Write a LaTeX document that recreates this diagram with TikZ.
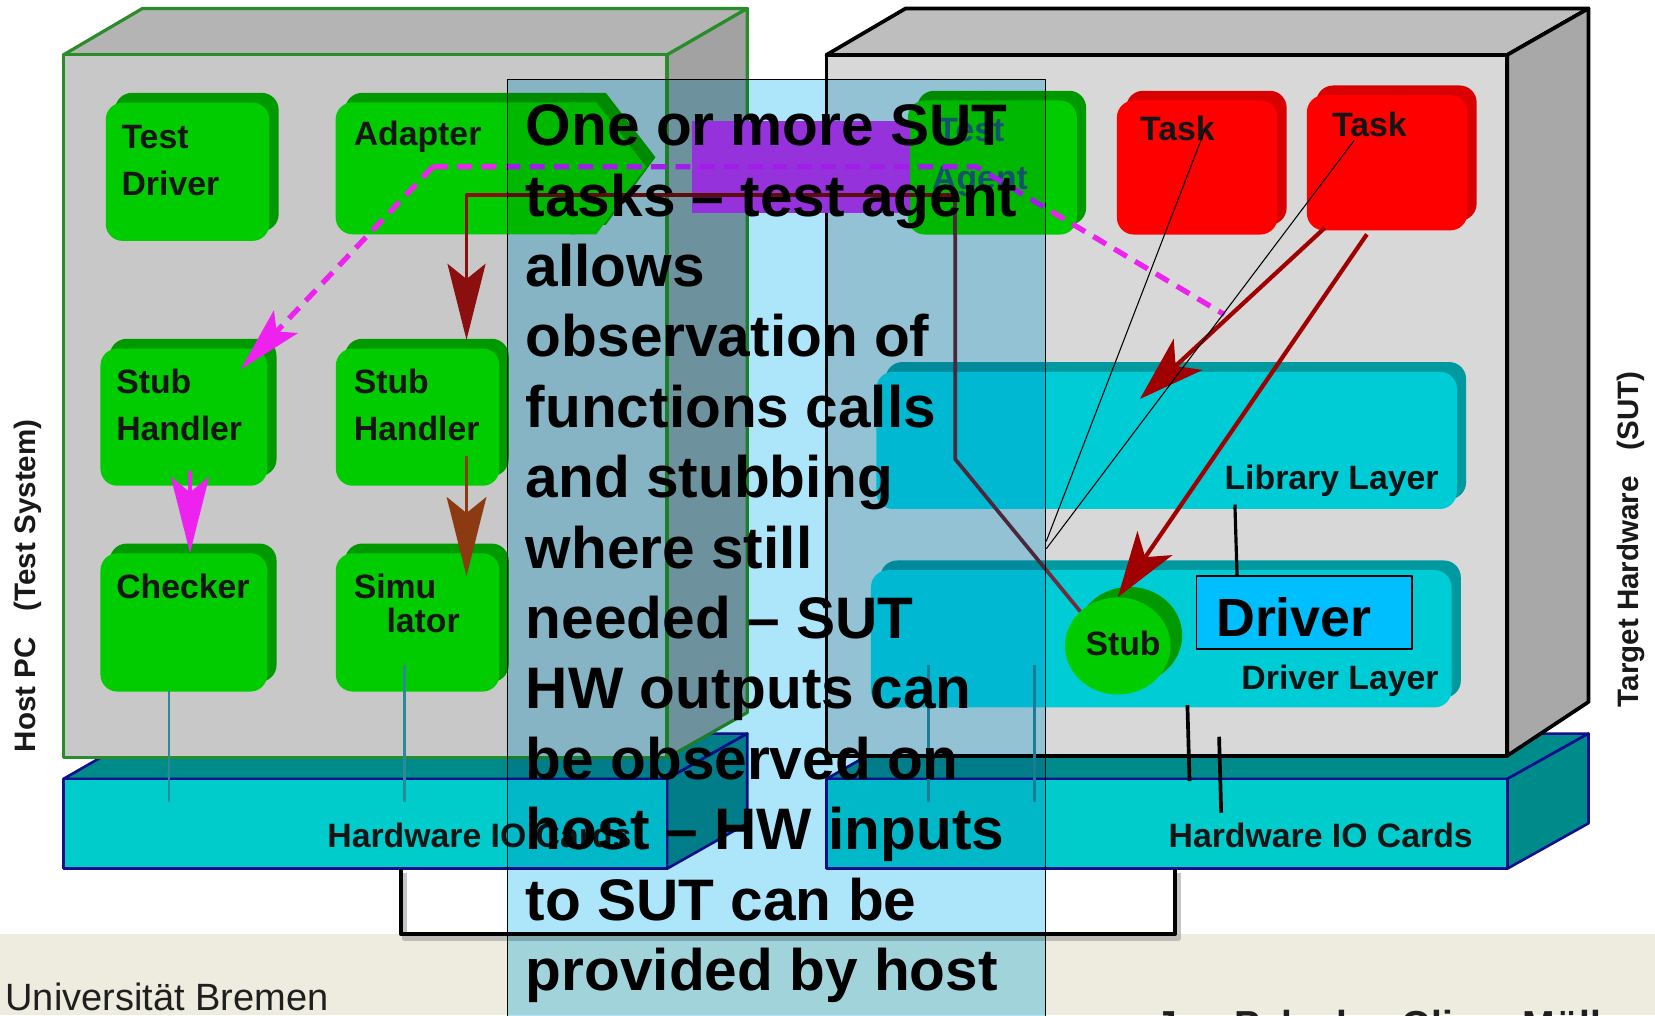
\documentclass[tikz,border=0pt]{standalone}
\usepackage{fontspec}
\setmainfont{Liberation Sans}
\usetikzlibrary{arrows.meta,calc,shapes.geometric}

\definecolor{boxgreen}{HTML}{00CC00}
\definecolor{boxgreenside}{HTML}{009A00}
\definecolor{taskred}{HTML}{FF0000}
\definecolor{taskredside}{HTML}{D80000}
\definecolor{layercyan}{HTML}{00CCD6}
\definecolor{layerside}{HTML}{00999F}
\definecolor{slabfront}{HTML}{00CCCC}
\definecolor{slabtop}{HTML}{008B8B}
\definecolor{slabedge}{HTML}{10108C}
\definecolor{hostedge}{HTML}{2A8C2A}
\definecolor{hostfront}{HTML}{C8C8C8}
\definecolor{hosttop}{HTML}{B4B4B4}
\definecolor{hostside}{HTML}{A2A2A2}
\definecolor{sutfront}{HTML}{D8D8D8}
\definecolor{suttop}{HTML}{BEBEBE}
\definecolor{sutside}{HTML}{A8A8A8}
\definecolor{notefill}{HTML}{ADE6FA}
\definecolor{footer}{HTML}{EEEBDF}
\definecolor{callmag}{HTML}{EE22EE}
\definecolor{chanmag}{HTML}{DD38E0}
\definecolor{ctrlred}{HTML}{8B0F0F}
\definecolor{simbrown}{HTML}{8B3A12}
\definecolor{taskarrow}{HTML}{A00000}
\definecolor{agentline}{HTML}{6E2C3C}
\definecolor{iowire}{HTML}{2A8A9A}
\definecolor{driverblue}{HTML}{00BFFF}
\definecolor{labeltext}{HTML}{151515}
\definecolor{agenttext}{HTML}{1E5E6E}

\tikzset{
  lbl/.style={font=\fontsize{32}{36}\selectfont\bfseries, text=labeltext, inner sep=0pt, anchor=base west},
  solidface/.style={rounded corners=16pt, inner sep=0pt, anchor=north west, draw=none},
  hostline/.style={draw=hostedge, line width=3},
  sutline/.style={draw=black, line width=3.5},
  slabline/.style={draw=slabedge, line width=2.5},
  calldash/.style={callmag, line width=5, dash pattern=on 14pt off 9pt},
  bigdart/.style={-{Stealth[length=#1, width=0.5*#1, inset=0.2*#1]}},
  wire/.style={iowire, line width=2.6},
  sidelabel/.style={font=\fontsize{28}{32}\selectfont\bfseries, text=black!90, inner sep=0pt, rotate=90}
}

% block with a darker extruded side behind its face
\newcommand\solidblock[7]{%
  \fill[#7, rounded corners=16pt] (#2+9,#3-9) rectangle ++(#4,#5);
  \node[solidface, fill=#6, minimum width=#4pt, minimum height=#5pt] (#1) at (#2,#3) {};
}

\begin{document}
\begin{tikzpicture}[x=1pt, y=-1pt, line join=round]
\useasboundingbox (0,0) rectangle (1568,962);
\clip (0,0) rectangle (1568,962);
\fill[white] (0,0) rectangle (1568,962);
\fill[footer] (0,885) rectangle (1568,962);

% ---------- IO card slabs ----------
\filldraw[fill=slabtop, slabline] (60,738) -- (135,695) -- (708,695) -- (632,738) -- cycle;
\filldraw[fill=slabtop, slabline] (632,738) -- (708,695) -- (708,780) -- (632,823) -- cycle;
\filldraw[fill=slabfront, slabline] (60,738) rectangle (632,823);
\filldraw[fill=slabtop, slabline] (783,738) -- (858,695) -- (1505,695) -- (1428,738) -- cycle;
\filldraw[fill=slabtop, slabline] (1428,738) -- (1505,695) -- (1505,780) -- (1428,823) -- cycle;
\filldraw[fill=slabfront, slabline] (783,738) rectangle (1428,823);
\coordinate (hostio) at (380,823);
\coordinate (sutio) at (1113,823);

% ---------- host PC cube ----------
\filldraw[fill=hosttop, hostline] (60,52) -- (135,8) -- (708,8) -- (632,52) -- cycle;
\filldraw[fill=hostside, hostline] (632,52) -- (708,8) -- (708,675) -- (632,718) -- cycle;
\filldraw[fill=hostfront, hostline] (60,52) rectangle (632,718);

% ---------- target hardware cube ----------
\filldraw[fill=suttop, sutline] (783,52) -- (858,8) -- (1505,8) -- (1428,52) -- cycle;
\filldraw[fill=sutside, sutline] (1428,52) -- (1505,8) -- (1505,665) -- (1428,716) -- cycle;
\filldraw[fill=sutfront, sutline] (783,52) rectangle (1428,716);

% link between the two IO card slabs
\draw[black!45, line width=5, opacity=.5] ($(hostio)+(3,4)$) -- (383,889) -- (1116,889) -- ($(sutio)+(3,4)$);
\draw[black, line width=4] (hostio) -- (380,885) -- (1113,885) -- (sutio);

\node[lbl] (hwio1) at (310,803) {Hardware IO Cards};
\node[lbl] (hwio2) at (1107,803) {Hardware IO Cards};

% ---------- host components ----------
\solidblock{tdrv}{100}{97}{155}{131}{boxgreen}{boxgreenside}
\solidblock{sh1}{95}{330}{158}{130}{boxgreen}{boxgreenside}
\solidblock{sh2}{318}{330}{155}{130}{boxgreen}{boxgreenside}
\solidblock{chk}{95}{524}{158}{131}{boxgreen}{boxgreenside}
\solidblock{sim}{318}{524}{155}{131}{boxgreen}{boxgreenside}

% adapter (arrow-shaped block)
\fill[boxgreenside, rounded corners=16pt] (327,88) rectangle (569,213);
\fill[boxgreenside] (549,88) -- (574,88) -- (621,149) -- (574,213) -- (549,213) -- cycle;
\fill[boxgreen, rounded corners=16pt] (318,97) rectangle (560,222);
\fill[boxgreen] (540,97) -- (565,97) -- (612,158) -- (565,222) -- (540,222) -- cycle;
\node[inner sep=0, minimum width=294pt, minimum height=125pt, anchor=north west] (adapter) at (318,97) {};

% ---------- target components ----------
\solidblock{agent}{860}{95}{160}{127}{boxgreen}{boxgreenside}
\solidblock{task1}{1058}{95}{152}{127}{taskred}{taskredside}
\solidblock{task2}{1238}{90}{152}{128}{taskred}{taskredside}
\solidblock{liblayer}{830}{352}{550}{130}{layercyan}{layerside}
\solidblock{drvlayer}{825}{540}{550}{130}{layercyan}{layerside}
\fill[boxgreenside] (1070,602) ellipse [x radius=50, y radius=46];
\node[ellipse, fill=boxgreen, minimum width=100pt, minimum height=92pt, inner sep=0] (stub) at (1059,612) {};

% channel between adapter and test agent
\node[fill=chanmag, inner sep=0, minimum width=207pt, minimum height=88pt, anchor=north west] (channel) at (655,114) {};

% ---------- labels in the blocks ----------
\node[lbl] (tdrvA) at (115,141) {Test};
\node[lbl] (tdrvB) at (115,185) {Driver};
\node[lbl] (adlbl) at (335,138) {Adapter};
\node[lbl] (sh1A) at (110,373) {Stub};
\node[lbl] (sh1B) at (110,417) {Handler};
\node[lbl] (sh2A) at (335,373) {Stub};
\node[lbl] (sh2B) at (335,417) {Handler};
\node[lbl] (chklbl) at (110,567) {Checker};
\node[lbl] (simA) at (335,567) {Simu};
\node[lbl] (simB) at (366,599) {lator};
\node[lbl, text=agenttext] (agA) at (888,134) {Test};
\node[lbl, text=agenttext] (agB) at (883,180) {Agent};
\node[lbl] (t1lbl) at (1080,133) {Task};
\node[lbl] (t2lbl) at (1262,129) {Task};
\node[lbl, text=black!85!teal] (liblbl) at (1160,464) {Library Layer};
\node[lbl, text=black!85!teal] (drvlbl) at (1176,653) {Driver Layer};
\node[font=\fontsize{32}{36}\selectfont\bfseries, text=labeltext, inner sep=0] (stublbl) at (1064,610) {Stub};

% ---------- wires to the IO cards ----------
\coordinate (w1a) at (160,655); \coordinate (w1b) at (160,760);
\coordinate (w2a) at (383,630); \coordinate (w2b) at (383,760);
\coordinate (w3a) at (880,630); \coordinate (w3b) at (880,760);
\coordinate (w4a) at (980,630); \coordinate (w4b) at (980,760);
\draw[wire] (w1a) -- (w1b);
\draw[wire] (w2a) -- (w2b);
\draw[wire] (w3a) -- (w3b);
\draw[wire] (w4a) -- (w4b);

% ---------- control and data flow ----------
\coordinate (fork) at (410,158);
\coordinate (bend) at (925,158);
\coordinate (dashend) at (1160,298);
\coordinate (sh1in) at (228,350);
\draw[calldash] (fork) -- (bend) -- (dashend);
\draw[calldash, bigdart=62pt] (fork) -- (sh1in);
\draw[callmag, line width=4, bigdart=72pt] (180,446) -- (chk.north -| 180,0);

\coordinate (redbend) at (905,185);
\coordinate (sh2in) at (442,322);
\draw[ctrlred, line width=3.5, bigdart=72pt] (redbend) -- (442,185) -- (sh2in);
\draw[agentline, line width=3.5] (agent.south -| redbend) -- (905,435) -- (stub.north west);
\draw[agentline, line width=3.5] (redbend) -- (agent.south -| redbend);
\draw[simbrown, line width=3, bigdart=75pt] (442,432) -- (442,546);

\coordinate (t2a) at (1255,216);
\coordinate (t2b) at (1295,222);
\coordinate (libin) at (1080,378);
\draw[taskarrow, line width=4, -{Stealth[length=62pt, width=40pt, inset=16pt]}] (t2a) -- (libin);
\draw[taskarrow, line width=4, -{Stealth[length=62pt, width=40pt, inset=16pt]}] (t2b) -- (stub.north);

% ---------- driver ----------
\node[draw=black, line width=1.5, fill=driverblue, minimum width=204pt, minimum height=69pt, anchor=north west, inner sep=0] (driver) at (1133,545) {};
\node[font=\fontsize{51}{60}\selectfont\bfseries, inner sep=0, anchor=base west] (drvtxt) at (1152,603) {Driver};
\draw[black, line width=3] (driver.north -| 1172,0) -- (1170,478);
\draw[black, line width=3.5] (1125,668) -- (1127,740);
\draw[black, line width=3.5] (1155,698) -- (1157,770);

% ---------- note ----------
\begin{scope}[blend mode=multiply]
  \fill[notefill] (480,75) rectangle (990,975);
\end{scope}
\node[draw=black, line width=1.2, inner sep=0, minimum width=510pt, minimum height=900pt, anchor=north west] (note) at (480,75) {};
\node[font=\fontsize{55.5}{66.7}\selectfont\bfseries, align=left, inner sep=0, anchor=north west] (msg) at (498,99)
  {One or more SUT\\tasks – test agent\\allows\\observation of\\functions calls\\and stubbing\\where still\\needed – SUT\\HW outputs can\\be observed on\\host – HW inputs\\to SUT can be\\provided by host};
\coordinate (c1) at (note.east |- 0,513);
\coordinate (c2) at (note.east |- 0,520);
\draw[black, line width=1] (c1) -- (1142,122);
\draw[black, line width=1] (c2) -- (1283,133);

% ---------- side captions and footer ----------
\node[sidelabel] (hostcap) at (26,555) {Host PC\hspace{0.6em} (Test System)};
\node[sidelabel] (sutcap) at (1545,511) {Target Hardware\hspace{0.6em} (SUT)};
\node[font=\fontsize{36}{40}\selectfont, text=black!88, inner sep=0, anchor=base west] (uni) at (5,957) {Universität Bremen};
\node[font=\fontsize{37}{40}\selectfont\bfseries, text=black!88, inner sep=0, anchor=base west] (authors) at (1095,984) {Jan Peleska, Oliver Möller};
\end{tikzpicture}
\end{document}
